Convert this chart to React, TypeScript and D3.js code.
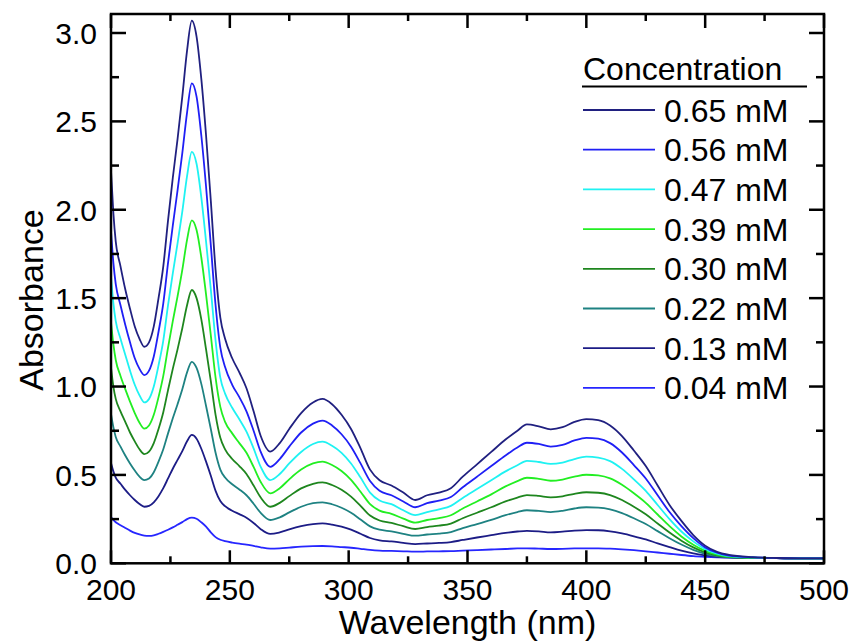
import React from "react";
import * as d3 from "d3";

// Wavelength grid (nm)
const wavelengths = [
  200, 201, 202, 204, 206, 208, 210, 212, 214, 216,
  218, 220, 222, 224, 226, 228, 230, 232, 234, 236,
  238, 240, 242, 244, 246, 248, 251, 254, 257, 260,
  263, 267, 271, 275, 280, 285, 289, 293, 297, 301,
  305, 309, 313, 318, 323, 328, 333, 338, 343, 348,
  354, 360, 366, 371, 375, 380, 385, 390, 395, 400,
  405, 410, 415, 420, 425, 430, 435, 440, 445, 450,
  455, 460, 470, 480, 490, 500,
];

// Absorbance spectra, one per concentration
const abs065 = [
  2.22, 1.98, 1.82, 1.68, 1.55, 1.44, 1.34, 1.27, 1.225, 1.25,
  1.34, 1.5, 1.68, 1.94, 2.18, 2.4, 2.64, 2.9, 3.07, 2.98,
  2.74, 2.42, 2.05, 1.66, 1.39, 1.27, 1.16, 1.08, 0.99, 0.86,
  0.72, 0.632, 0.68, 0.76, 0.85, 0.91, 0.93, 0.9, 0.84, 0.76,
  0.65, 0.53, 0.47, 0.44, 0.4, 0.358, 0.385, 0.4, 0.425, 0.49,
  0.56, 0.63, 0.7, 0.75, 0.786, 0.775, 0.758, 0.77, 0.8, 0.816,
  0.81, 0.78, 0.72, 0.638, 0.55, 0.44, 0.33, 0.24, 0.16, 0.1,
  0.065, 0.048, 0.035, 0.03, 0.028, 0.028,
];
const abs056 = [
  1.88, 1.7, 1.58, 1.46, 1.35, 1.25, 1.16, 1.1, 1.065, 1.09,
  1.17, 1.31, 1.47, 1.7, 1.91, 2.11, 2.32, 2.55, 2.715, 2.64,
  2.42, 2.13, 1.8, 1.46, 1.22, 1.11, 1.01, 0.94, 0.86, 0.75,
  0.63, 0.546, 0.59, 0.66, 0.74, 0.79, 0.807, 0.78, 0.73, 0.66,
  0.565, 0.465, 0.41, 0.385, 0.35, 0.317, 0.34, 0.355, 0.375, 0.43,
  0.49, 0.55, 0.61, 0.655, 0.682, 0.675, 0.66, 0.67, 0.695, 0.71,
  0.705, 0.68, 0.627, 0.556, 0.48, 0.385, 0.29, 0.21, 0.142, 0.09,
  0.06, 0.044, 0.034, 0.03, 0.028, 0.028,
];
const abs047 = [
  1.625, 1.47, 1.37, 1.27, 1.18, 1.09, 1.01, 0.95, 0.91, 0.93,
  1.0, 1.12, 1.26, 1.46, 1.64, 1.81, 1.99, 2.19, 2.328, 2.26,
  2.07, 1.82, 1.55, 1.26, 1.05, 0.96, 0.88, 0.815, 0.745, 0.65,
  0.545, 0.471, 0.505, 0.565, 0.63, 0.675, 0.688, 0.665, 0.625, 0.565,
  0.485, 0.4, 0.355, 0.335, 0.3, 0.273, 0.29, 0.305, 0.325, 0.37,
  0.42, 0.47, 0.52, 0.555, 0.58, 0.573, 0.562, 0.57, 0.59, 0.603,
  0.598, 0.578, 0.534, 0.475, 0.41, 0.33, 0.25, 0.18, 0.124, 0.08,
  0.055, 0.041, 0.033, 0.03, 0.028, 0.028,
];
const abs039 = [
  1.365, 1.24, 1.15, 1.06, 0.985, 0.915, 0.85, 0.795, 0.762, 0.78,
  0.84, 0.94, 1.06, 1.22, 1.37, 1.51, 1.66, 1.83, 1.94, 1.885,
  1.73, 1.52, 1.29, 1.05, 0.885, 0.8, 0.735, 0.68, 0.625, 0.545,
  0.46, 0.396, 0.425, 0.475, 0.53, 0.565, 0.575, 0.556, 0.522, 0.472,
  0.405, 0.335, 0.298, 0.28, 0.253, 0.23, 0.245, 0.256, 0.272, 0.31,
  0.35, 0.39, 0.435, 0.465, 0.484, 0.478, 0.467, 0.474, 0.49, 0.501,
  0.497, 0.48, 0.444, 0.396, 0.342, 0.276, 0.21, 0.152, 0.105, 0.07,
  0.049, 0.038, 0.032, 0.029, 0.028, 0.028,
];
const abs030 = [
  1.108, 1.0, 0.93, 0.86, 0.8, 0.74, 0.69, 0.645, 0.618, 0.632,
  0.68, 0.76, 0.855, 0.98, 1.1, 1.21, 1.33, 1.46, 1.546, 1.5,
  1.38, 1.21, 1.03, 0.84, 0.71, 0.645, 0.59, 0.55, 0.505, 0.44,
  0.372, 0.32, 0.342, 0.38, 0.424, 0.45, 0.458, 0.443, 0.416, 0.377,
  0.325, 0.27, 0.242, 0.228, 0.21, 0.194, 0.205, 0.213, 0.225, 0.255,
  0.286, 0.317, 0.35, 0.372, 0.386, 0.381, 0.373, 0.379, 0.393, 0.402,
  0.399, 0.386, 0.358, 0.32, 0.277, 0.225, 0.174, 0.128, 0.09, 0.062,
  0.045, 0.036, 0.031, 0.029, 0.028, 0.028,
];
const abs022 = [
  0.845, 0.77, 0.715, 0.66, 0.61, 0.565, 0.525, 0.49, 0.471, 0.48,
  0.515, 0.575, 0.645, 0.735, 0.82, 0.9, 0.985, 1.08, 1.14, 1.105,
  1.015, 0.89, 0.76, 0.625, 0.53, 0.485, 0.447, 0.418, 0.385, 0.337,
  0.285, 0.245, 0.26, 0.288, 0.32, 0.34, 0.345, 0.334, 0.314, 0.286,
  0.248, 0.209, 0.19, 0.18, 0.167, 0.156, 0.163, 0.168, 0.177, 0.199,
  0.222, 0.246, 0.272, 0.29, 0.3, 0.296, 0.29, 0.297, 0.31, 0.317,
  0.315, 0.305, 0.284, 0.255, 0.222, 0.182, 0.142, 0.106, 0.076, 0.054,
  0.041, 0.034, 0.03, 0.029, 0.028, 0.028,
];
const abs013 = [
  0.567, 0.52, 0.485, 0.45, 0.415, 0.385, 0.358, 0.335, 0.32, 0.325,
  0.345, 0.38, 0.425, 0.48, 0.535, 0.585, 0.635, 0.69, 0.726, 0.705,
  0.648, 0.575, 0.495, 0.41, 0.352, 0.323, 0.297, 0.278, 0.258, 0.228,
  0.193, 0.166, 0.175, 0.192, 0.21, 0.222, 0.226, 0.219, 0.207, 0.19,
  0.167, 0.143, 0.13, 0.124, 0.116, 0.109, 0.112, 0.115, 0.12, 0.132,
  0.146, 0.159, 0.172, 0.18, 0.184, 0.181, 0.175, 0.179, 0.185, 0.188,
  0.187, 0.181, 0.169, 0.153, 0.135, 0.113, 0.092, 0.072, 0.056, 0.045,
  0.037, 0.033, 0.03, 0.029, 0.028, 0.028,
];
const abs004 = [
  0.262, 0.245, 0.232, 0.215, 0.2, 0.185, 0.172, 0.163, 0.157, 0.155,
  0.158, 0.167, 0.178, 0.19, 0.203, 0.218, 0.233, 0.25, 0.258, 0.252,
  0.232, 0.207, 0.175, 0.148, 0.133, 0.125, 0.117, 0.111, 0.106, 0.098,
  0.09, 0.083, 0.085, 0.089, 0.094, 0.097, 0.098, 0.096, 0.092, 0.088,
  0.082, 0.076, 0.072, 0.07, 0.068, 0.066, 0.067, 0.068, 0.069, 0.072,
  0.075, 0.078, 0.081, 0.084, 0.085, 0.083, 0.081, 0.082, 0.084, 0.085,
  0.085, 0.083, 0.079, 0.074, 0.068, 0.061, 0.054, 0.047, 0.041, 0.037,
  0.034, 0.032, 0.03, 0.029, 0.028, 0.028,
];

const seriesLabels = ["0.65 mM", "0.56 mM", "0.47 mM", "0.39 mM", "0.30 mM", "0.22 mM", "0.13 mM", "0.04 mM"];
const seriesValues = [abs065, abs056, abs047, abs039, abs030, abs022, abs013, abs004];
const seriesColors = ["#202080", "#1f1ff5", "#1ff2f2", "#22ee22", "#1e861e", "#1e8282", "#1c1c86", "#2626ff"];

const xTickValues = [200, 250, 300, 350, 400, 450, 500];
const yTickValues = [0, 0.5, 1.0, 1.5, 2.0, 2.5, 3.0];

const W = 854;
const H = 642;
const plotLeft = 111;
const plotRight = 824;
const plotTop = 14;
const plotBottom = 563.3;
const FONT = "'Liberation Sans', Arial, sans-serif";

export default function App() {
  const x = d3.scaleLinear().domain([200, 500]).range([plotLeft, plotRight]);
  const y = d3.scaleLinear().domain([0, 3]).range([plotBottom, 33]);

  const line = d3
    .line<number>()
    .x((_, i) => x(wavelengths[i]))
    .y((d) => y(d))
    .curve(d3.curveMonotoneX);

  const xMinor = d3.range(200, 501, 25).filter((v) => v % 50 !== 0);
  const yMinor = d3.range(0.25, 3.01, 0.5);

  const tickStroke = { stroke: "#000", strokeWidth: 2.5 };

  const legendX = 583;
  const legendRow0 = 110;
  const legendStep = 39.7;

  return (
    <svg
      width={W}
      height={H}
      style={{ position: "absolute", left: 0, top: 0, background: "#fff" }}
      fontFamily={FONT}
    >
      <rect x={0} y={0} width={W} height={H} fill="#fff" />

      {/* spectra */}
      <g fill="none" strokeWidth={1.8} strokeLinejoin="round">
        {seriesValues
          .map((vals, i) => ({ vals, i }))
          .reverse()
          .map(({ vals, i }) => (
            <path key={i} d={line(vals) ?? ""} stroke={seriesColors[i]} />
          ))}
      </g>

      {/* frame */}
      <rect
        x={plotLeft}
        y={plotTop}
        width={plotRight - plotLeft}
        height={plotBottom - plotTop}
        fill="none"
        stroke="#000"
        strokeWidth={2.5}
      />

      {/* x ticks (bottom pointing up, top pointing down) */}
      {xTickValues.map((v) => (
        <g key={"xt" + v}>
          <line x1={x(v)} x2={x(v)} y1={plotBottom} y2={plotBottom - 13} {...tickStroke} />
          <line x1={x(v)} x2={x(v)} y1={plotTop} y2={plotTop + 14} {...tickStroke} />
          <text x={x(v)} y={600} textAnchor="middle" fontSize={30} fill="#000">
            {v}
          </text>
        </g>
      ))}
      {xMinor.map((v) => (
        <g key={"xm" + v}>
          <line x1={x(v)} x2={x(v)} y1={plotBottom} y2={plotBottom - 7} {...tickStroke} />
          <line x1={x(v)} x2={x(v)} y1={plotTop} y2={plotTop + 7} {...tickStroke} />
        </g>
      ))}

      {/* y ticks (left and right pointing inward) */}
      {yTickValues.map((v) => (
        <g key={"yt" + v}>
          <line x1={plotLeft} x2={plotLeft + 15} y1={y(v)} y2={y(v)} {...tickStroke} />
          <line x1={plotRight} x2={plotRight - 15} y1={y(v)} y2={y(v)} {...tickStroke} />
          <text x={97} y={y(v)} dy="0.36em" textAnchor="end" fontSize={30} fill="#000">
            {v.toFixed(1)}
          </text>
        </g>
      ))}
      {yMinor.map((v) => (
        <g key={"ym" + v}>
          <line x1={plotLeft} x2={plotLeft + 8} y1={y(v)} y2={y(v)} {...tickStroke} />
          <line x1={plotRight} x2={plotRight - 8} y1={y(v)} y2={y(v)} {...tickStroke} />
        </g>
      ))}

      {/* axis titles */}
      <text x={(plotLeft + plotRight) / 2} y={634} textAnchor="middle" fontSize={34} fill="#000">
        Wavelength (nm)
      </text>
      <text
        transform={`translate(43, 300) rotate(-90)`}
        textAnchor="middle"
        fontSize={34}
        fill="#000"
      >
        Absorbance
      </text>

      {/* legend */}
      <text x={legendX} y={80} fontSize={32} fill="#000">
        Concentration
      </text>
      <line x1={582} x2={807} y1={86.5} y2={86.5} stroke="#000" strokeWidth={2} />
      {seriesLabels.map((label, i) => {
        const ly = legendRow0 + i * legendStep;
        return (
          <g key={label}>
            <line x1={legendX} x2={655} y1={ly} y2={ly} stroke={seriesColors[i]} strokeWidth={1.8} />
            <text x={664} y={ly} dy="0.36em" fontSize={32} fill="#000">
              {label}
            </text>
          </g>
        );
      })}
    </svg>
  );
}
